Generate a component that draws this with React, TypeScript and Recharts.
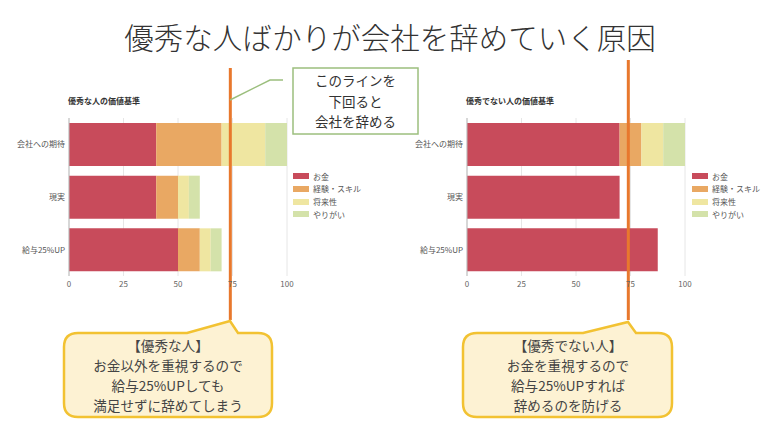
import React from 'react';
import { BarChart, Bar, XAxis, YAxis, CartesianGrid, ReferenceLine } from 'recharts';

const pageTitle = '優秀な人ばかりが会社を辞めていく原因';
const categories = ['会社への期待', '現実', '給与25%UP'];
const seriesNames = ['お金', '経験・スキル', '将来性', 'やりがい'];
const seriesColors = ['#c84b5b', '#e9a863', '#efe6a1', '#d4e2aa'];

const excellentTitle = '優秀な人の価値基準';
const excellentMoney = [40, 40, 50];
const excellentSkill = [30, 10, 10];
const excellentFuture = [20, 5, 5];
const excellentWorth = [10, 5, 5];

const ordinaryTitle = '優秀でない人の価値基準';
const ordinaryMoney = [70, 70, 87.5];
const ordinarySkill = [10, 0, 0];
const ordinaryFuture = [10, 0, 0];
const ordinaryWorth = [10, 0, 0];

const xTicks = [0, 25, 50, 75, 100];
const thresholdValue = 74;

const noteLines = ['このラインを', '下回ると', '会社を辞める'];
const excellentBubble = ['【優秀な人】', 'お金以外を重視するので', '給与25%UPしても', '満足せずに辞めてしまう'];
const ordinaryBubble = ['【優秀でない人】', 'お金を重視するので', '給与25%UPすれば', '辞めるのを防げる'];

const FONT = '"Noto Sans CJK JP", "Noto Sans", sans-serif';

function buildData(money: number[], skill: number[], future: number[], worth: number[]) {
  return categories.map((name, i) => ({
    name,
    [seriesNames[0]]: money[i],
    [seriesNames[1]]: skill[i],
    [seriesNames[2]]: future[i],
    [seriesNames[3]]: worth[i],
  }));
}

const excellentData = buildData(excellentMoney, excellentSkill, excellentFuture, excellentWorth);
const ordinaryData = buildData(ordinaryMoney, ordinarySkill, ordinaryFuture, ordinaryWorth);

const makeThreshold = (extendTop: number, extendBottom: number) => (props: any) => {
  const top = Math.min(props.y1, props.y2) - extendTop;
  const bottom = Math.max(props.y1, props.y2) + extendBottom;
  return <line x1={props.x1} x2={props.x2} y1={top} y2={bottom} stroke="#e8782d" strokeWidth={3} />;
};

const CHART_TOP = 40;

function ValueChart({ data, left, extendTop }: { data: any[]; left: number; extendTop: number }) {
  return (
    <div style={{ position: 'absolute', left, top: CHART_TOP }}>
      <BarChart
        width={340}
        height={290}
        data={data}
        layout="vertical"
        margin={{ top: 78, right: 53, bottom: 24, left: 4 }}
        barSize={43}
        style={{ overflow: 'visible' }}
      >
        <CartesianGrid horizontal={false} vertical={true} stroke="#e6e6e6" />
        <XAxis
          type="number"
          domain={[0, 100]}
          ticks={xTicks}
          axisLine={false}
          tickLine={false}
          tickSize={0}
          tickMargin={5}
          height={30}
          tick={{ fontSize: 8, fill: '#666', fontFamily: FONT }}
        />
        <YAxis
          type="category"
          dataKey="name"
          width={65}
          axisLine={{ stroke: '#bbb' }}
          tickLine={false}
          tickSize={0}
          tickMargin={4}
          tick={{ fontSize: 8, fill: '#555', fontFamily: FONT }}
        />
        {seriesNames.map((s, i) => (
          <Bar key={s} dataKey={s} stackId="a" fill={seriesColors[i]} isAnimationActive={false} />
        ))}
        <ReferenceLine x={thresholdValue} shape={makeThreshold(extendTop, 44)} />
      </BarChart>
    </div>
  );
}

function Legend({ left }: { left: number }) {
  return (
    <div style={{ position: 'absolute', left, top: 170 }}>
      {seriesNames.map((s, i) => (
        <div key={s} style={{ position: 'absolute', left: 0, top: i * 12.8, height: 12, width: 90, display: 'flex', alignItems: 'center' }}>
          <div style={{ width: 16, height: 6, background: seriesColors[i] }} />
          <span style={{ marginLeft: 4, fontSize: 8, color: '#555', fontFamily: FONT, whiteSpace: 'nowrap' }}>{s}</span>
        </div>
      ))}
    </div>
  );
}

function bubblePath(l: number, t: number, r: number, b: number, rad: number, baseL: number, tipX: number, tipY: number, baseR: number) {
  return `M ${l + rad} ${t} L ${baseL} ${t} L ${tipX} ${tipY} L ${baseR} ${t} L ${r - rad} ${t} Q ${r} ${t} ${r} ${t + rad} L ${r} ${b - rad} Q ${r} ${b} ${r - rad} ${b} L ${l + rad} ${b} Q ${l} ${b} ${l} ${b - rad} L ${l} ${t + rad} Q ${l} ${t} ${l + rad} ${t} Z`;
}

function MultiLine({ lines, x, y, step, size, color }: { lines: string[]; x: number; y: number; step: number; size: number; color: string }) {
  return (
    <text x={x} y={y} textAnchor="middle" fontSize={size} fill={color} fontFamily={FONT}>
      {lines.map((t, i) => (
        <tspan key={t} x={x} dy={i === 0 ? 0 : step}>
          {t}
        </tspan>
      ))}
    </text>
  );
}

export default function App() {
  return (
    <div style={{ position: 'absolute', left: 0, top: 0, width: 780, height: 435, background: '#fff', overflow: 'hidden', fontFamily: FONT }}>
      <div style={{ position: 'absolute', left: 0, top: 16, width: 780, textAlign: 'center', fontSize: 29.5, fontWeight: 300, color: '#333', lineHeight: '40px', fontFamily: FONT }}>
        {pageTitle}
      </div>

      <div style={{ position: 'absolute', left: 68, top: 95, fontSize: 8, fontWeight: 700, color: '#333', fontFamily: FONT, whiteSpace: 'nowrap' }}>
        {excellentTitle}
      </div>
      <div style={{ position: 'absolute', left: 466, top: 95, fontSize: 8, fontWeight: 700, color: '#333', fontFamily: FONT, whiteSpace: 'nowrap' }}>
        {ordinaryTitle}
      </div>

      <ValueChart data={excellentData} left={0} extendTop={50} />
      <ValueChart data={ordinaryData} left={398} extendTop={58} />

      <Legend left={293} />
      <Legend left={692} />

      <svg width={780} height={435} style={{ position: 'absolute', left: 0, top: 0, pointerEvents: 'none' }}>
        <polyline points="230,100 270,80 283,80" fill="none" stroke="#9cbf7e" strokeWidth={1.5} />
        <rect x={293} y={68} width={125} height={66} fill="#fff" stroke="#9cbf7e" strokeWidth={1.5} />
        <MultiLine lines={noteLines} x={355.5} y={86} step={20.5} size={13.5} color="#333" />

        <path d={bubblePath(64, 333, 272, 417, 14, 187, 230, 321, 238)} fill="#fdf2d3" stroke="#f2c232" strokeWidth={2.5} />
        <MultiLine lines={excellentBubble} x={168} y={351} step={19.9} size={13.6} color="#444" />

        <path d={bubblePath(463, 333, 672, 417, 14, 583, 628, 322, 636)} fill="#fdf2d3" stroke="#f2c232" strokeWidth={2.5} />
        <MultiLine lines={ordinaryBubble} x={568} y={351} step={19.9} size={13.6} color="#444" />
      </svg>
    </div>
  );
}
